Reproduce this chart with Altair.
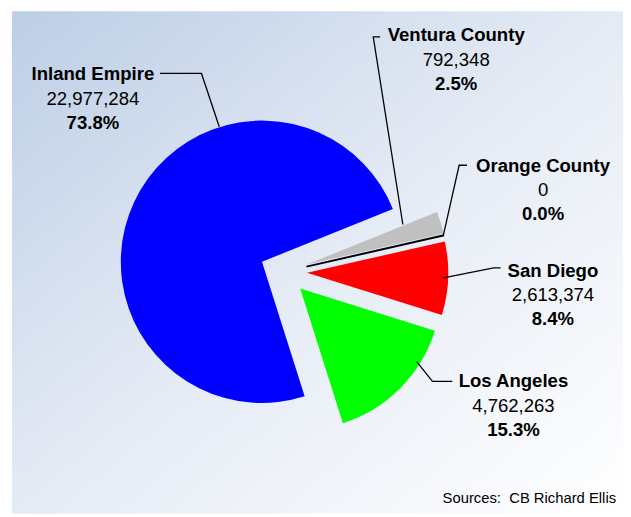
import math
import altair as alt
import pandas as pd

# ---- data ----
names = ["Ventura County", "Orange County", "San Diego", "Los Angeles", "Inland Empire"]
values = [792348, 0, 2613374, 4762263, 22977284]
colors = ["#c0c0c0", "#000000", "#ff0000", "#00ff00", "#0000ff"]
source_text = "Sources:\u00a0 CB Richard Ellis"

# ---- layout (pixels, chart coordinates) ----
W, H = 623, 509
CX, CY = 279, 264          # pie centre
R = 143                    # pie radius
EXPLODE = 24               # explode distance of each slice
START = math.radians(68)   # start angle of the first slice (clockwise from 12 o'clock)

label_x = [454, 542, 552, 512, 86]
label_y = [30.5, 162.5, 269, 381, 70]

# leader lines (annotation polylines)
leader_pts = {
    "Ventura County": [(377, 26), (370, 26), (400, 216)],
    "Orange County": [(465, 156), (457, 156), (441, 227)],
    "San Diego": [(499, 260), (492, 260), (441, 270)],
    "Los Angeles": [(450, 375), (430, 375), (414, 355)],
    "Inland Empire": [(154, 63), (196, 63), (214, 117)],
}

FONT = "Liberation Sans"

df = pd.DataFrame({
    "name": names,
    "value": values,
    "order": list(range(len(names))),
    "lx": label_x,
    "ly": label_y,
})

rows = []
for g, pts in leader_pts.items():
    for i, (x, y) in enumerate(pts):
        rows.append({"grp": g, "ord": i, "x": x, "y": y})
lines_df = pd.DataFrame(rows)

# background gradient panel
bg = alt.Chart(pd.DataFrame({"a": [0]})).mark_rect(
    fill=alt.Gradient(
        gradient="linear",
        stops=[
            alt.GradientStop(color="#bdcee5", offset=0),
            alt.GradientStop(color="#e5ebf5", offset=0.5),
            alt.GradientStop(color="#ffffff", offset=1),
        ],
        x1=0, y1=0, x2=1, y2=1,
    )
).encode(x=alt.value(4), x2=alt.value(W), y=alt.value(0), y2=alt.value(H))

base = alt.Chart(df).transform_joinaggregate(total="sum(value)")

pie = base.transform_window(
    cum="sum(value)", sort=[alt.SortField("order")], frame=[None, 0]
).transform_calculate(
    a1=f"{START} + 2*PI*datum.cum/datum.total",
    a0=f"{START} + 2*PI*(datum.cum - datum.value)/datum.total",
).transform_calculate(
    mid="(datum.a0 + datum.a1)/2"
).transform_calculate(
    px=f"{CX} + {EXPLODE}*sin(datum.mid)",
    py=f"{CY} - {EXPLODE}*cos(datum.mid)",
).mark_arc(outerRadius=R, strokeWidth=2).encode(
    theta=alt.Theta("a0:Q", scale=None),
    theta2=alt.Theta2("a1:Q"),
    x=alt.X("px:Q", scale=None, axis=None),
    y=alt.Y("py:Q", scale=None, axis=None),
    fill=alt.Color("name:N", scale=alt.Scale(domain=names, range=colors), legend=None),
    stroke=alt.condition("datum.value == 0", alt.value("#000000"), alt.value("transparent")),
)

leaders = alt.Chart(lines_df).mark_line(color="#000000", strokeWidth=1.3).encode(
    x=alt.X("x:Q", scale=None, axis=None),
    y=alt.Y("y:Q", scale=None, axis=None),
    detail="grp:N",
    order="ord:Q",
)

txt_common = dict(font=FONT, fontSize=18.8, align="center", baseline="alphabetic", color="#000000")

name_txt = base.mark_text(fontWeight="bold", **txt_common).encode(
    x=alt.X("lx:Q", scale=None, axis=None),
    y=alt.Y("ly:Q", scale=None, axis=None),
    text="name:N",
)
value_txt = base.transform_calculate(
    vtxt="format(datum.value, ',')"
).mark_text(dy=24.5, **txt_common).encode(
    x=alt.X("lx:Q", scale=None, axis=None),
    y=alt.Y("ly:Q", scale=None, axis=None),
    text="vtxt:N",
)
pct_txt = base.transform_calculate(
    ptxt="format(datum.value / datum.total, '.1%')"
).mark_text(dy=49, fontWeight="bold", **txt_common).encode(
    x=alt.X("lx:Q", scale=None, axis=None),
    y=alt.Y("ly:Q", scale=None, axis=None),
    text="ptxt:N",
)

source = alt.Chart(pd.DataFrame({"t": [source_text]})).mark_text(
    font=FONT, fontSize=15, align="right", baseline="alphabetic", color="#000000"
).encode(x=alt.value(616), y=alt.value(498), text="t:N")

chart = alt.layer(bg, pie, leaders, name_txt, value_txt, pct_txt, source).properties(
    width=W, height=H, padding=0, autosize=alt.AutoSizeParams(type="none"), background="#ffffff"
).configure_view(stroke=None)

chart.save("out.html", embed_options={"renderer": "svg", "actions": False})
